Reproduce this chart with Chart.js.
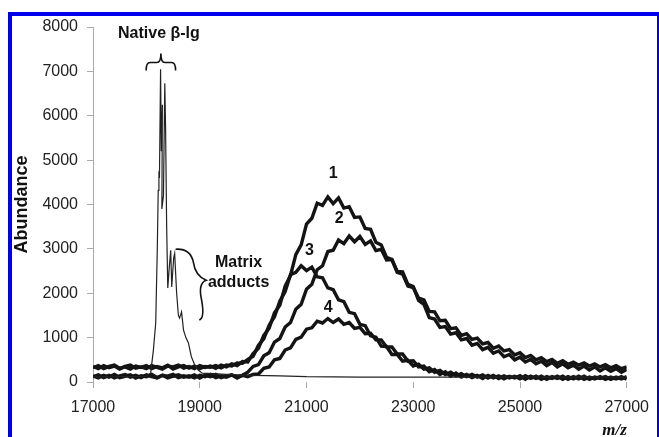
<!DOCTYPE html>
<html>
<head>
<meta charset="utf-8">
<script src="https://cdn.jsdelivr.net/npm/chart.js@4.4.0/dist/chart.umd.min.js"></script>
<style>
  html, body { margin: 0; padding: 0; background: #fff; overflow: hidden; }
  #wrap { position: relative; width: 659px; height: 437px; }
  #frame {
    position: absolute; left: 8px; top: 12px; width: 645px; height: 440px;
    border-left: 4px solid #0000ee; border-top: 4px solid #0000ee; border-right: 2px solid #0000ee;
    pointer-events: none;
  }
  canvas { position: absolute; left: 0; top: 0; }
</style>
</head>
<body>
<div id="wrap">
  <canvas id="spectrum" width="659" height="437"></canvas>
  <div id="frame"></div>
</div>
<script>
// m/z grid shared by the four broad spectra
const mzGrid = [
  17000,17100,17200,17300,17400,17500,17600,17700,17800,17900,
  18000,18100,18200,18300,18400,18500,18600,18700,18800,18900,
  19000,19100,19200,19300,19400,19500,19600,19700,19800,19900,
  20000,20100,20200,20300,20400,20500,20600,20700,20800,20900,
  21000,21100,21200,21300,21400,21500,21600,21700,21800,21900,
  22000,22100,22200,22300,22400,22500,22600,22700,22800,22900,
  23000,23100,23200,23300,23400,23500,23600,23700,23800,23900,
  24000,24100,24200,24300,24400,24500,24600,24700,24800,24900,
  25000,25100,25200,25300,25400,25500,25600,25700,25800,25900,
  26000,26100,26200,26300,26400,26500,26600,26700,26800,26900,
  27000
];

const spectrum1 = [
  350,300,370,320,360,290,350,380,310,340,
  300,370,330,290,360,340,380,310,350,300,
  370,330,360,310,380,340,410,370,460,450,
  640,760,1050,1210,1560,1730,2160,2400,2870,3090,
  3560,3690,4030,3980,4170,4020,4150,3920,3950,3710,
  3720,3460,3440,3150,3090,2810,2760,2470,2430,2160,
  2130,1890,1850,1590,1580,1380,1390,1200,1220,1050,
  1090,960,990,860,890,760,810,700,730,610,
  660,550,600,500,550,460,510,420,480,400,
  450,380,430,360,410,340,390,320,370,300,
  340
];

const spectrum2 = [
  120,160,100,150,90,140,170,110,150,100,
  160,120,90,150,130,170,100,140,110,160,
  90,150,120,170,100,140,160,110,150,220,
  350,390,590,660,900,980,1240,1340,1640,1750,
  2090,2200,2530,2620,2940,2970,3200,3120,3290,3160,
  3280,3100,3180,2960,2990,2750,2760,2490,2480,2200,
  2150,1840,1750,1450,1420,1230,1250,1080,1110,950,
  980,830,870,730,780,650,700,570,620,500,
  560,450,510,410,470,370,440,340,410,320,
  380,290,360,270,340,250,320,240,300,220,
  280
];

const spectrum3 = [
  320,370,300,350,380,310,340,290,360,330,
  370,300,350,320,380,290,340,370,310,360,
  300,350,330,370,320,380,360,430,420,510,
  580,830,970,1280,1470,1820,2040,2420,2470,2620,
  2510,2590,2370,2350,2120,2080,1850,1810,1570,1540,
  1300,1270,1040,1010,810,800,620,620,470,490,
  360,400,290,320,220,260,170,220,140,190,
  120,170,110,160,90,150,80,140,90,130,
  70,140,80,130,60,120,80,130,60,120,
  70,130,60,110,70,120,60,110,70,120,
  60
];

const spectrum4 = [
  140,90,150,110,170,100,130,160,90,140,
  120,170,100,150,90,130,160,110,140,90,
  150,120,170,100,140,110,160,90,150,120,
  170,180,310,340,500,530,720,770,960,1010,
  1190,1220,1370,1330,1430,1340,1420,1300,1340,1210,
  1230,1090,1100,950,950,790,790,630,630,470,
  480,340,360,230,280,170,230,130,200,110,
  170,100,150,80,150,90,140,70,130,90,
  140,60,130,80,130,60,120,80,130,60,
  120,70,130,60,110,80,120,60,110,70,
  120
];

// native protein trace, sampled unevenly around the sharp peaks
const nativeMz = [
  17000,17500,18000,18080,18130,18175,18204,18222,18235,18245,
  18266,18280,18300,18290,18320,18345,18360,18380,18401,18430,
  18456,18475,18512,18530,18567,18600,18622,18659,18696,18740,
  18788,18843,18900,18972,19046,19500,20000,20500,21000,22000,
  27000
];
const nativeAbund = [
  110,120,130,200,700,1330,2970,4320,4750,4600,
  7050,5200,6250,3900,4200,6730,5700,3500,2120,2600,
  2970,2140,2800,2900,2000,1500,1440,1580,1170,1000,
  880,570,400,270,200,170,150,140,120,110,
  110
];

const yTicks = [0,1000,2000,3000,4000,5000,6000,7000,8000];
const xTicks = [17000,19000,21000,23000,25000,27000];

const seriesNumbers = ['1','2','3','4'];
const noteTexts = ['Native \u03b2-lg', 'Matrix', 'adducts'];

function toPoints(xs, ys) {
  return xs.map((v, i) => ({ x: v, y: ys[i] }));
}

// annotation positions in data units (m/z, abundance)
const notes = [
  { text: noteTexts[0], mz: 18235, ab: 7853 },
  { text: noteTexts[1], mz: 19728, ab: 2680 },
  { text: noteTexts[2], mz: 19728, ab: 2230 },
  { text: seriesNumbers[0], mz: 21498, ab: 4703 },
  { text: seriesNumbers[1], mz: 21614, ab: 3683 },
  { text: seriesNumbers[2], mz: 21055, ab: 2970 },
  { text: seriesNumbers[3], mz: 21405, ab: 1688 },
];

const braces = [
  [['M', 17995, 7020], ['Q', 17995, 7200, 18069, 7200], ['L', 18198, 7200],
   ['Q', 18272, 7200, 18272, 7403], ['Q', 18272, 7200, 18346, 7200], ['L', 18475, 7200],
   ['Q', 18548, 7200, 18548, 7020]],
  [['M', 18548, 2993], ['Q', 18825, 3015, 18880, 2700], ['Q', 18917, 2385, 19120, 2295],
   ['Q', 18972, 2228, 19028, 1890], ['Q', 19102, 1440, 18991, 1395]],
];

const labelFont = 'bold 16px "Liberation Sans", Arial, sans-serif';

const annotationPlugin = {
  id: 'annotations',
  afterDatasetsDraw(chart) {
    const { ctx, scales: { x, y } } = chart;
    const px = (m) => x.getPixelForValue(m);
    const py = (a) => y.getPixelForValue(a);
    ctx.save();
    ctx.fillStyle = '#111';
    ctx.textAlign = 'center';
    ctx.textBaseline = 'middle';
    ctx.font = labelFont;
    notes.forEach((n) => ctx.fillText(n.text, px(n.mz), py(n.ab)));

    ctx.strokeStyle = '#111';
    ctx.lineWidth = 1.6;
    braces.forEach((path) => {
      ctx.beginPath();
      path.forEach((c) => {
        if (c[0] === 'M') ctx.moveTo(px(c[1]), py(c[2]));
        else if (c[0] === 'L') ctx.lineTo(px(c[1]), py(c[2]));
        else ctx.quadraticCurveTo(px(c[1]), py(c[2]), px(c[3]), py(c[4]));
      });
      ctx.stroke();
    });
    ctx.restore();
  }
};

const broad = (data) => ({
  data: toPoints(mzGrid, data),
  borderColor: '#141414',
  borderWidth: 3.4,
  pointRadius: 0,
  tension: 0,
  fill: false,
});

new Chart(document.getElementById('spectrum'), {
  type: 'line',
  data: {
    datasets: [
      {
        data: toPoints(nativeMz, nativeAbund),
        borderColor: '#222',
        borderWidth: 1.2,
        pointRadius: 0,
        tension: 0,
        fill: false,
      },
      broad(spectrum1),
      broad(spectrum2),
      broad(spectrum3),
      broad(spectrum4),
    ],
  },
  options: {
    responsive: false,
    animation: false,
    devicePixelRatio: 1,
    layout: { padding: { top: 27, right: 25, left: 0, bottom: 0 } },
    plugins: { legend: { display: false }, tooltip: { enabled: false } },
    scales: {
      x: {
        type: 'linear',
        min: 17000,
        max: 27000,
        afterBuildTicks: (scale) => { scale.ticks = xTicks.map((v) => ({ value: v })); },
        afterFit: (scale) => { scale.height = 55; },
        border: { display: false },
        grid: { drawOnChartArea: false, color: '#aaa', tickLength: 6 },
        ticks: {
          color: '#222',
          padding: 10,
          maxRotation: 0,
          font: { family: '"Liberation Sans", Arial, sans-serif', size: 16 },
          callback: (v) => String(v),
        },
        title: {
          display: true,
          text: 'm/z',
          align: 'end',
          color: '#111',
          padding: { top: 0, bottom: 0 },
          font: { family: '"Liberation Serif", "Times New Roman", serif', size: 17, style: 'italic', weight: 'bold', lineHeight: 0.8 },
        },
      },
      y: {
        min: 0,
        max: 8000,
        afterBuildTicks: (scale) => { scale.ticks = yTicks.map((v) => ({ value: v })); },
        afterFit: (scale) => { scale.width = 93; },
        border: { display: true, color: '#aaa', width: 1 },
        grid: { drawOnChartArea: false, color: '#aaa', tickLength: 6 },
        ticks: {
          color: '#222',
          padding: 9,
          font: { family: '"Liberation Sans", Arial, sans-serif', size: 16 },
          callback: (v) => String(v),
        },
        title: {
          display: true,
          text: 'Abundance',
          color: '#111',
          padding: { top: 11, bottom: 0 },
          font: { family: '"Liberation Sans", Arial, sans-serif', size: 18, weight: 'bold' },
        },
      },
    },
  },
  plugins: [annotationPlugin],
});
</script>
</body>
</html>
